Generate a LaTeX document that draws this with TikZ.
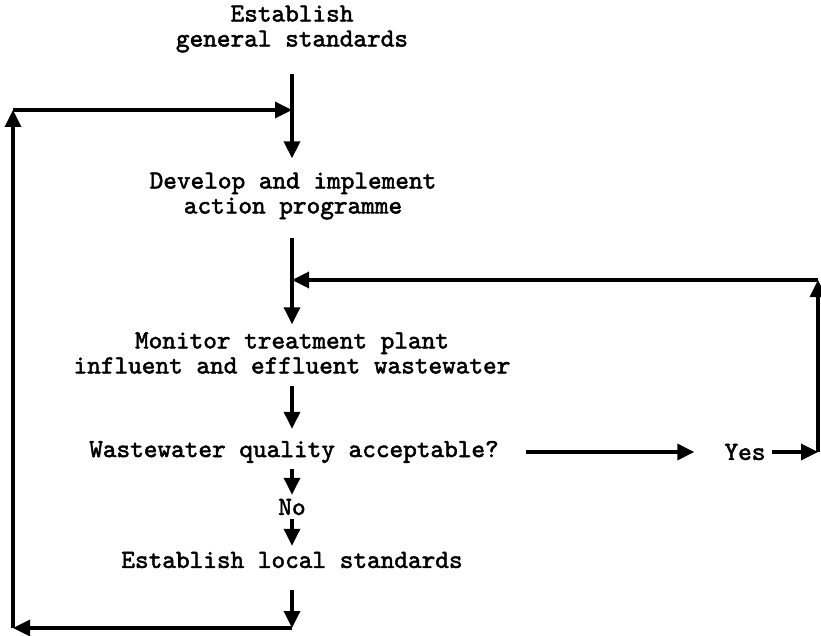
\documentclass[tikz,border=0pt]{standalone}
\usepackage{fontspec}
\newfontfamily\tw[FakeBold=2]{lmmono10-regular.otf}
\usetikzlibrary{arrows.meta}
\begin{document}
\begin{tikzpicture}[x=1pt,y=-1pt,
  txt/.style={font=\tw\fontsize{26}{25}\selectfont, align=center, inner sep=0pt},
  conn/.style={line width=3.4pt, -{Triangle[width=16pt,length=17pt]}}]
\useasboundingbox (0,0) rectangle (821,636);
% text nodes
\node[txt] (gen) at (292,29) {Establish\\general standards};
\node[txt] (dev) at (293,196) {Develop and implement\\action programme};
\node[txt] (mon) at (292,353) {Monitor treatment plant\\influent and effluent wastewater};
\node[txt] (q)   at (294,452) {Wastewater quality acceptable?};
\node[txt] (no)  at (292,507) {No};
\node[txt] (loc) at (292,560) {Establish local standards};
\node[txt] (yes) at (745,452) {Yes};
% corner points of the loops
\coordinate (tj) at (292,110);
\coordinate (lt) at (13,110);
\coordinate (lb) at (13,628);
\coordinate (bj) at (292,628);
\coordinate (mj) at (292,280);
\coordinate (rt) at (818,280);
\coordinate (rb) at (818,452);
% main flow
\draw[conn] ([yshift=-21pt]gen.south -| tj) -- ([yshift=14pt]dev.north -| tj);
\draw[conn] ([yshift=-18pt]dev.south -| tj) -- ([yshift=8pt]mon.north);
\draw[conn] ([yshift=-12pt]mon.south) -- ([yshift=12pt]q.north -| mon);
\draw[conn] ([yshift=-6pt]q.south -| no) -- ([yshift=4pt]no.north);
\draw[conn] ([yshift=-4pt]no.south) -- ([yshift=6pt]loc.north);
% yes loop
\draw[conn] ([xshift=27pt]q.east) -- ([xshift=-30pt]yes.west);
\draw[conn] ([xshift=6pt]yes.east) -- (rb);
\draw[conn] (rb) -- (rt);
\draw[conn] (rt) -- (mj);
% no loop
\draw[conn] ([yshift=-22pt]loc.south) -- (bj);
\draw[conn] (bj) -- (lb);
\draw[conn] (lb) -- (lt);
\draw[conn] (lt) -- (tj);
\end{tikzpicture}
\end{document}
